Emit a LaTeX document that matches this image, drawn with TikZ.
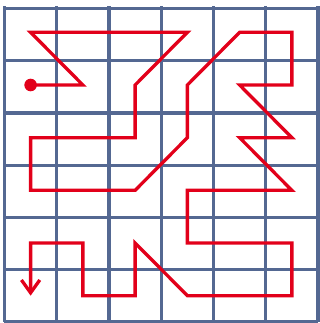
\documentclass[tikz,border=0pt]{standalone}
\usepackage{xcolor}
\definecolor{gridblue}{RGB}{84,104,146}
\definecolor{pathred}{RGB}{226,0,26}
\usepackage{tikz}
\usetikzlibrary{arrows.meta}
\tikzset{
  gridline/.style={draw=gridblue,line width=1.8pt},
  route/.style={draw=pathred,line width=1.8pt},
  routeend/.style={-{Straight Barb[length=7pt,width=10pt,line width=1.8pt]}},
}

\begin{document}
\begin{tikzpicture}[x=1cm,y=1.008cm]
\useasboundingbox (-0.086,-0.019) rectangle (6.038,6.114);
\draw[gridline] (0,0) grid (6,6);
% start of the walk
\coordinate (start) at (0.5,4.5);
\coordinate (goal) at (0.5,0.5);
\fill[pathred] (start) circle (0.12);
\draw[route,routeend] (start) -- (1.5,4.5) -- (0.5,5.5) -- (3.5,5.5)
  -- (2.5,4.5) -- (2.5,3.5) -- (0.5,3.5) -- (0.5,2.5) -- (2.5,2.5)
  -- (3.5,3.5) -- (3.5,4.5) -- (4.5,5.5) -- (5.5,5.5) -- (5.5,4.5)
  -- (4.5,4.5) -- (5.5,3.5) -- (4.5,3.5) -- (5.5,2.5) -- (3.5,2.5)
  -- (3.5,1.5) -- (5.5,1.5) -- (5.5,0.5) -- (3.5,0.5) -- (2.5,1.5)
  -- (2.5,0.5) -- (1.5,0.5) -- (1.5,1.5) -- (0.5,1.5) -- (goal);
\end{tikzpicture}
\end{document}
